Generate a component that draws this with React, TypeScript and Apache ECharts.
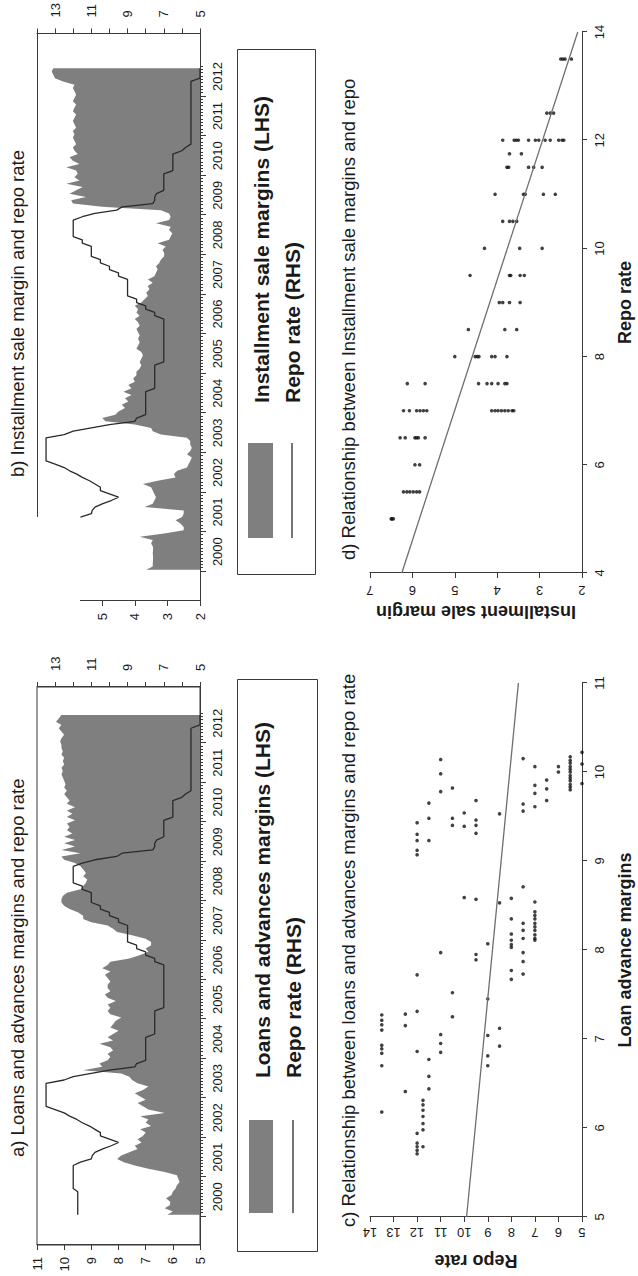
import React, { useEffect, useRef } from "react";
import * as echarts from "echarts";

// ---------- data (monthly, Jan 2000 .. Sep 2012) ----------
const firstYear = 2000;
const years = [2000, 2001, 2002, 2003, 2004, 2005, 2006, 2007, 2008, 2009, 2010, 2011, 2012];

const loanMargin = [
  6.2, 6.0, 6.3, 6.1, 6.1, 6.25, 6.05, 6.0, 5.9, 5.85, 5.75, 5.8,
  5.85, 6.3, 6.9, 7.4, 7.8, 8.05, 7.9, 7.6, 7.3, 7.4, 7.15, 7.3,
  7.1, 7.0, 7.2, 6.8, 7.0, 6.9, 7.2, 6.3, 6.9, 7.1, 7.3, 7.0,
  7.2, 7.4, 7.1, 6.9, 7.3, 7.5, 7.6, 7.9, 9.3, 8.6, 8.7, 8.4,
  8.3, 8.4, 8.2, 8.3, 8.7, 8.2, 8.4, 8.2, 8.0, 8.3, 8.2, 8.1,
  7.9, 8.3, 8.4, 8.3, 8.4, 8.1, 8.4, 8.5, 8.3, 8.4, 8.4, 8.3,
  8.4, 8.5, 8.3, 8.6, 8.4, 8.3, 7.6, 7.2, 6.9, 7.0, 6.8, 6.8,
  7.0, 7.5, 8.05, 8.2, 8.4, 9.0, 9.3, 9.3, 9.5, 9.8, 10.0, 10.1,
  10.1, 10.05, 9.9, 9.4, 9.3, 9.2, 9.15, 9.3, 9.2, 9.3, 9.4, 9.6,
  10.0, 10.1, 9.4, 10.1, 9.6, 10.0, 9.6, 10.0, 9.7, 9.9, 9.8, 9.9,
  9.6, 9.9, 9.7, 9.9, 9.6, 9.9, 9.8, 9.9, 10.0, 9.9, 10.0, 9.95,
  10.0, 10.05, 10.1, 10.05, 10.1, 10.0, 10.05, 10.0, 10.1, 10.05, 10.1, 10.1,
  10.15, 10.1, 10.0, 10.1, 10.2, 10.1, 10.3, 10.2, 10.1,
];

const installmentMargin = [
  3.65, 3.45, 3.45, 3.44, 3.44, 3.45, 3.44, 3.44, 3.5, 3.45, 3.85, 3.1,
  2.5, 2.5, 2.6, 2.75, 2.55, 2.5, 2.5, 3.7, 3.45, 3.4, 3.35, 3.4,
  3.45, 3.5, 3.75, 3.3, 2.75, 2.8, 2.7, 2.4, 2.35, 2.3, 2.25, 2.4,
  2.3, 2.25, 2.3, 2.3, 2.4, 3.2, 3.45, 3.5, 4.0, 4.9, 5.0, 4.6,
  4.5, 4.3, 4.4, 4.2, 4.3, 4.1, 4.35, 4.1, 4.2, 4.0, 4.05, 3.95,
  3.95, 3.85, 3.8, 3.85, 3.8, 3.75, 3.8, 3.95, 3.9, 3.85, 3.9, 3.85,
  3.9, 3.95, 3.85, 3.9, 4.0, 3.85, 3.95, 3.9, 4.0, 3.8, 3.7, 3.6,
  3.65, 3.55, 3.6, 3.45, 3.6, 3.4, 3.35, 3.3, 3.35, 3.25, 3.2, 3.1,
  3.1, 3.15, 3.05, 3.3, 2.95, 2.9, 2.85, 2.95, 2.9, 3.35, 2.95, 2.9,
  2.95, 3.2, 5.0, 5.9, 5.95, 5.5, 6.0, 5.8, 5.6, 6.1, 5.7, 5.85,
  5.75, 5.8, 6.1, 5.7, 5.9, 6.0, 5.75, 5.85, 5.9, 5.8, 5.85, 5.9,
  5.85, 5.9, 5.8, 5.85, 5.9, 5.85, 5.8, 5.9, 5.85, 5.8, 5.9, 5.85,
  5.8, 5.85, 5.9, 5.85, 6.2, 6.45, 6.5, 6.55, 6.5,
];

const repoRate = [
  11.75, 11.75, 11.75, 11.75, 11.75, 11.75, 11.75, 11.75, 12, 12, 12, 12,
  12, 12, 12, 12, 11.6, 11.0, 10.95, 10.8, 10.4, 9.9, 9.5, 10.0,
  10.5, 10.5, 10.8, 11.1, 11.5, 11.8, 12.2, 12.5, 13.0, 13.5, 13.5, 13.5,
  13.5, 13.5, 13.5, 13.5, 13.5, 12.5, 12.0, 11.0, 10.0, 8.6, 8.5, 8.0,
  8, 8, 8, 8, 8, 8, 8, 7.5, 7.5, 7.5, 7.5, 7.5,
  7.5, 7.5, 7.5, 7, 7, 7, 7, 7, 7, 7, 7, 7,
  7, 7, 7, 7, 7, 7.5, 7.5, 8, 8, 8.5, 8.5, 9,
  9, 9, 9, 9, 9, 9.5, 9.5, 10, 10, 10.5, 10.5, 11,
  11, 11, 11, 11.5, 11.5, 12, 12, 12, 12, 12, 12, 11.5,
  10.8, 9.6, 9.3, 7.6, 7.5, 7.5, 7.4, 7, 7, 7, 7, 7,
  7, 6.5, 6.5, 6.5, 6.5, 6.5, 6.5, 6, 5.8, 5.5, 5.5, 5.5,
  5.5, 5.5, 5.5, 5.5, 5.5, 5.5, 5.5, 5.5, 5.5, 5.5, 5.5, 5.5,
  5.5, 5.5, 5.5, 5.5, 5.5, 5, 5, 5, 5,
];
const installmentRepoFrom = 16; // repo line of panel b starts May 2001

// tick values / labels
const lhsTicksA = [5, 6, 7, 8, 9, 10, 11];
const rhsLabels = [5, 7, 9, 11, 13];
const lhsTicksB = [2, 3, 4, 5];

// scatter c: [loan advance margin, repo rate]
const scatterC = [
  [6.18, 13.5], [6.7, 13.5], [6.84, 13.5], [6.89, 13.5], [6.93, 13.5], [7.1, 13.5], [7.16, 13.5], [7.21, 13.5], [7.27, 13.5],
  [6.41, 12.5], [7.15, 12.5], [7.28, 12.5],
  [7.72, 12], [7.31, 12], [6.86, 12], [5.94, 12], [5.83, 12], [5.79, 12], [5.75, 12], [5.71, 12],
  [9.43, 12], [9.3, 12], [9.23, 12], [9.12, 12], [9.07, 12],
  [5.79, 11.75], [5.98, 11.75], [6.05, 11.75], [6.13, 11.75], [6.2, 11.75], [6.26, 11.75], [6.31, 11.75],
  [6.44, 11.5], [6.58, 11.5], [6.77, 11.5], [9.23, 11.5], [9.48, 11.5], [9.65, 11.5],
  [6.85, 11], [6.95, 11], [7.05, 11], [7.97, 11], [9.78, 11], [9.98, 11], [10.14, 11],
  [7.25, 10.5], [7.52, 10.5], [9.4, 10.5], [9.48, 10.5], [9.82, 10.5],
  [9.39, 10], [9.54, 10], [8.59, 10],
  [7.89, 9.5], [7.95, 9.5], [9.31, 9.5], [9.4, 9.5], [9.46, 9.5], [9.68, 9.5], [8.57, 9.5],
  [6.7, 9], [6.81, 9], [7.04, 9], [7.45, 9], [8.07, 9],
  [6.92, 8.5], [7.12, 8.5], [9.53, 8.5], [8.53, 8.5],
  [7.67, 8], [7.77, 8], [8.03, 8], [8.06, 8], [8.58, 8], [8.35, 8], [8.18, 8], [8.11, 8],
  [7.73, 7.5], [7.87, 7.5], [7.97, 7.5], [10.15, 7.5], [9.64, 7.5], [9.56, 7.5], [8.71, 7.5], [8.3, 7.5], [8.22, 7.5], [8.13, 7.5],
  [8.11, 7], [10.06, 7], [9.85, 7], [9.76, 7], [9.61, 7], [8.54, 7], [8.43, 7], [8.39, 7], [8.35, 7], [8.3, 7], [8.26, 7], [8.22, 7], [8.17, 7], [8.13, 7],
  [9.91, 6.5], [9.81, 6.5], [9.68, 6.5],
  [10.06, 6], [10.0, 6],
  [10.17, 5.5], [10.13, 5.5], [10.1, 5.5], [10.06, 5.5], [10.03, 5.5], [10.0, 5.5], [9.96, 5.5], [9.93, 5.5], [9.9, 5.5], [9.86, 5.5], [9.83, 5.5], [9.8, 5.5],
  [10.22, 5], [10.09, 5], [9.87, 5],
];
const fitC = [[5, 9.9], [11, 7.7]];

// scatter d: [repo rate, installment sale margin]
const scatterD = [
  [5, 6.5], [5, 6.45], [5, 6.48],
  [5.5, 6.21], [5.5, 6.13], [5.5, 6.06], [5.5, 5.98], [5.5, 5.9], [5.5, 5.83],
  [6, 5.94], [6, 5.83],
  [6.5, 6.29], [6.5, 6.17], [6.5, 5.94], [6.5, 5.9], [6.5, 5.86], [6.5, 5.7],
  [7, 6.21], [7, 6.07], [7, 5.9], [7, 5.82], [7, 5.74], [7, 5.66],
  [7, 4.13], [7, 4.05], [7, 3.98], [7, 3.9], [7, 3.82], [7, 3.74], [7, 3.65], [7, 3.61],
  [7.5, 6.12], [7.5, 5.7], [7.5, 4.44], [7.5, 4.24], [7.5, 4.13], [7.5, 3.98], [7.5, 3.82], [7.5, 3.77],
  [8, 5.0], [8, 4.52], [8, 4.47], [8, 4.43], [8, 4.13], [8, 4.05], [8, 3.77],
  [8.5, 4.68], [8.5, 3.82], [8.5, 3.54],
  [9, 3.95], [9, 3.87], [9, 3.71], [9, 3.46],
  [9.5, 4.64], [9.5, 3.71], [9.5, 3.68], [9.5, 3.46], [9.5, 3.36],
  [10, 4.3], [10, 3.47], [10, 2.94],
  [10.5, 3.87], [10.5, 3.71], [10.5, 3.63], [10.5, 3.54],
  [11, 4.05], [11, 3.38], [11, 3.34], [11, 2.91], [11, 2.63],
  [11.5, 3.77], [11.5, 3.73], [11.5, 3.26], [11.5, 3.14], [11.5, 2.94],
  [11.75, 3.71], [11.75, 3.43],
  [12, 3.87], [12, 3.6], [12, 3.55], [12, 3.5], [12, 3.26], [12, 3.1], [12, 3.02], [12, 2.87], [12, 2.75], [12, 2.55], [12, 2.47], [12, 2.43],
  [12.5, 2.83], [12.5, 2.75], [12.5, 2.67],
  [13.5, 2.5], [13.5, 2.45], [13.5, 2.4], [13.5, 2.25],
];
const fitD = [[4, 6.25], [14, 2.1]];

// ---------- styling ----------
const FONT = "'Liberation Sans', Arial, Helvetica, sans-serif";
const INK = "#1a1a1a";
const AXIS = "#3a3a3a";
const AREA = "#7f7f7f";
const REPO = "#2a2a2a";

const monthTime = (i: number) => firstYear + (i + 0.5) / 12;
const monthBoundaries = Array.from({ length: loanMargin.length + 1 }, (_, k) => firstYear + k / 12);

const tickLabel = { fontFamily: FONT, fontSize: 13, color: INK };
const axisLine = { show: true, onZero: false, lineStyle: { color: AXIS, width: 1 } };

function timeXAxes(gridIndex: number, min: number, max: number) {
  return [
    {
      type: "value", gridIndex, min, max, position: "bottom",
      axisLine,
      axisTick: { show: true, length: 6, customValues: years, lineStyle: { color: AXIS } },
      axisLabel: {
        ...tickLabel, margin: 11,
        customValues: years.map((y) => y + 0.5),
        formatter: (v: number) => String(Math.floor(v)),
      },
      splitLine: { show: false },
    },
    {
      type: "value", gridIndex, min, max, position: "bottom",
      axisLine: { show: false },
      axisTick: { show: true, length: 3, customValues: monthBoundaries, lineStyle: { color: AXIS } },
      axisLabel: { show: false },
      splitLine: { show: false },
    },
  ];
}

function rhsAxis(gridIndex: number) {
  return {
    type: "value", gridIndex, min: 5, max: 14, interval: 1, position: "right",
    axisLine, axisTick: { show: true, length: 5, lineStyle: { color: AXIS } },
    axisLabel: { ...tickLabel, margin: 16, customValues: rhsLabels },
    splitLine: { show: false },
  };
}

const boldName = { fontFamily: FONT, fontSize: 18, fontWeight: "bold", color: INK };

function text(str: string, x: number, y: number, font: string) {
  return {
    type: "text", x, y, silent: true,
    style: {
      text: str, font, fill: INK,
      align: "left", verticalAlign: "middle",
      textAlign: "left", textVerticalAlign: "middle",
    },
  };
}
function hline(x1: number, y1: number, x2: number, y2: number, color: string, w: number) {
  return { type: "line", silent: true, shape: { x1, y1, x2, y2 }, style: { stroke: color, lineWidth: w } };
}

const titleFont = `normal 18.5px ${FONT}`;
const legendFont = `bold 21px ${FONT}`;

const option = {
  animation: false,
  backgroundColor: "#ffffff",
  grid: [
    { left: 31, top: 37, width: 558, height: 163, show: true, borderColor: AXIS, borderWidth: 1, backgroundColor: "transparent" },
    { left: 675, top: 37, width: 569, height: 163 },
    { left: 59, top: 370, width: 534, height: 212 },
    { left: 703, top: 370, width: 541, height: 212 },
  ],
  xAxis: [
    ...timeXAxes(0, 1999.276, 2013.421),
    ...timeXAxes(1, 1999.254, 2013.587),
    {
      type: "value", gridIndex: 2, min: 5, max: 11, interval: 1,
      axisLine, axisTick: { show: true, length: 5 }, axisLabel: { ...tickLabel, margin: 11 },
      splitLine: { show: false },
      name: "Loan advance margins", nameLocation: "middle", nameGap: 34, nameTextStyle: boldName,
    },
    {
      type: "value", gridIndex: 3, min: 4, max: 14, interval: 2,
      axisLine, axisTick: { show: true, length: 5 }, axisLabel: { ...tickLabel, margin: 11 },
      splitLine: { show: false },
      name: "Repo rate", nameLocation: "middle", nameGap: 34, nameTextStyle: boldName,
    },
  ],
  yAxis: [
    {
      type: "value", gridIndex: 0, min: 5, max: 11, interval: 1, position: "left",
      axisLine, axisTick: { show: true, length: 5, customValues: lhsTicksA },
      axisLabel: { ...tickLabel, margin: 12, customValues: lhsTicksA },
      splitLine: { show: false },
    },
    rhsAxis(0),
    {
      type: "value", gridIndex: 1, min: 2, max: 7, interval: 1, position: "left",
      axisLine: { show: false },
      axisTick: { show: true, length: 5, customValues: lhsTicksB, lineStyle: { color: AXIS } },
      axisLabel: { ...tickLabel, margin: 12, customValues: lhsTicksB },
      splitLine: { show: false },
    },
    rhsAxis(1),
    {
      type: "value", gridIndex: 2, min: 5, max: 14, interval: 1,
      axisLine, axisTick: { show: true, length: 5 },
      axisLabel: { ...tickLabel, margin: 9, rotate: 90 },
      splitLine: { show: false },
      name: "Repo rate", nameLocation: "middle", nameRotate: 90, nameGap: 35, nameTextStyle: boldName,
    },
    {
      type: "value", gridIndex: 3, min: 2, max: 7, interval: 1,
      axisLine, axisTick: { show: true, length: 5 },
      axisLabel: { ...tickLabel, margin: 11, rotate: 90 },
      splitLine: { show: false },
      name: "Installment sale margin", nameLocation: "middle", nameRotate: 90, nameGap: 30, nameTextStyle: boldName,
    },
  ],
  series: [
    {
      name: "Loans and advances margins (LHS)", type: "line", xAxisIndex: 0, yAxisIndex: 0,
      data: loanMargin.map((v, i) => [monthTime(i), v]),
      symbol: "none", lineStyle: { width: 0 }, areaStyle: { color: AREA, opacity: 1, origin: "start" }, z: 2,
    },
    {
      name: "Repo rate (RHS)", type: "line", xAxisIndex: 0, yAxisIndex: 1,
      data: repoRate.map((v, i) => [monthTime(i), v]),
      symbol: "none", lineStyle: { color: REPO, width: 1.3 }, z: 3,
    },
    {
      name: "Installment sale margins (LHS)", type: "line", xAxisIndex: 2, yAxisIndex: 2,
      data: installmentMargin.map((v, i) => [monthTime(i), v]),
      symbol: "none", lineStyle: { width: 0 }, areaStyle: { color: AREA, opacity: 1, origin: "start" }, z: 2,
    },
    {
      name: "Repo rate (RHS) b", type: "line", xAxisIndex: 2, yAxisIndex: 3,
      data: repoRate.slice(installmentRepoFrom).map((v, j) => [monthTime(j + installmentRepoFrom), v]),
      symbol: "none", lineStyle: { color: REPO, width: 1.3 }, z: 3,
    },
    {
      type: "scatter", xAxisIndex: 4, yAxisIndex: 4, data: scatterC,
      symbol: "circle", symbolSize: 3.6, itemStyle: { color: "#111" },
    },
    {
      type: "line", xAxisIndex: 4, yAxisIndex: 4, data: fitC,
      symbol: "none", lineStyle: { color: "#6e6e6e", width: 1.3 },
    },
    {
      type: "scatter", xAxisIndex: 5, yAxisIndex: 5, data: scatterD,
      symbol: "circle", symbolSize: 3.6, itemStyle: { color: "#111" },
    },
    {
      type: "line", xAxisIndex: 5, yAxisIndex: 5, data: fitD,
      symbol: "none", lineStyle: { color: "#6e6e6e", width: 1.3 },
    },
  ],
  graphic: {
    elements: [
      // titles
      text("a) Loans and advances margins and repo rate", 119, 17, titleFont),
      text("b) Installment sale margin and repo rate", 799, 17, titleFont),
      text("c) Relationship between loans and advances margins and repo rate", 49, 348, titleFont),
      text("d) Relationship between Installment sale margins and repo", 716, 348, titleFont),
      // panel b partial frame
      hline(759, 37.5, 1244, 37.5, AXIS, 1),
      hline(675.5, 80, 675.5, 200, AXIS, 1),
      // legend a
      { type: "rect", silent: true, shape: { x: 24.5, y: 237.5, width: 572, height: 80 }, style: { fill: "none", stroke: AXIS, lineWidth: 1 } },
      { type: "rect", silent: true, shape: { x: 63, y: 249, width: 93, height: 24 }, style: { fill: AREA } },
      hline(63, 293, 156, 293, REPO, 1.3),
      text("Loans and advances margins (LHS)", 198, 262, legendFont),
      text("Repo rate (RHS)", 198, 293, legendFont),
      // legend b
      { type: "rect", silent: true, shape: { x: 701.5, y: 237.5, width: 525, height: 78 }, style: { fill: "none", stroke: AXIS, lineWidth: 1 } },
      { type: "rect", silent: true, shape: { x: 738, y: 248, width: 95, height: 25 }, style: { fill: AREA } },
      hline(738, 292, 833, 292, REPO, 1.3),
      text("Installment sale margins (LHS)", 873, 261, legendFont),
      text("Repo rate (RHS)", 873, 292, legendFont),
    ],
  },
};

export default function App() {
  const ref = useRef<HTMLDivElement | null>(null);
  useEffect(() => {
    document.body.style.margin = "0";
    document.documentElement.style.overflow = "hidden";
    const el = ref.current!;
    const chart = echarts.init(el, undefined, { renderer: "svg", width: 1276, height: 638 });
    chart.setOption(option as any);
    return () => chart.dispose();
  }, []);
  return (
    <div style={{ position: "fixed", left: 0, top: 0, width: 638, height: 1276, overflow: "hidden", background: "#fff" }}>
      <div
        ref={ref}
        style={{
          position: "absolute", left: 0, top: 0, width: 1276, height: 638,
          transformOrigin: "0 0", transform: "translateY(1276px) rotate(-90deg)",
        }}
      />
    </div>
  );
}
